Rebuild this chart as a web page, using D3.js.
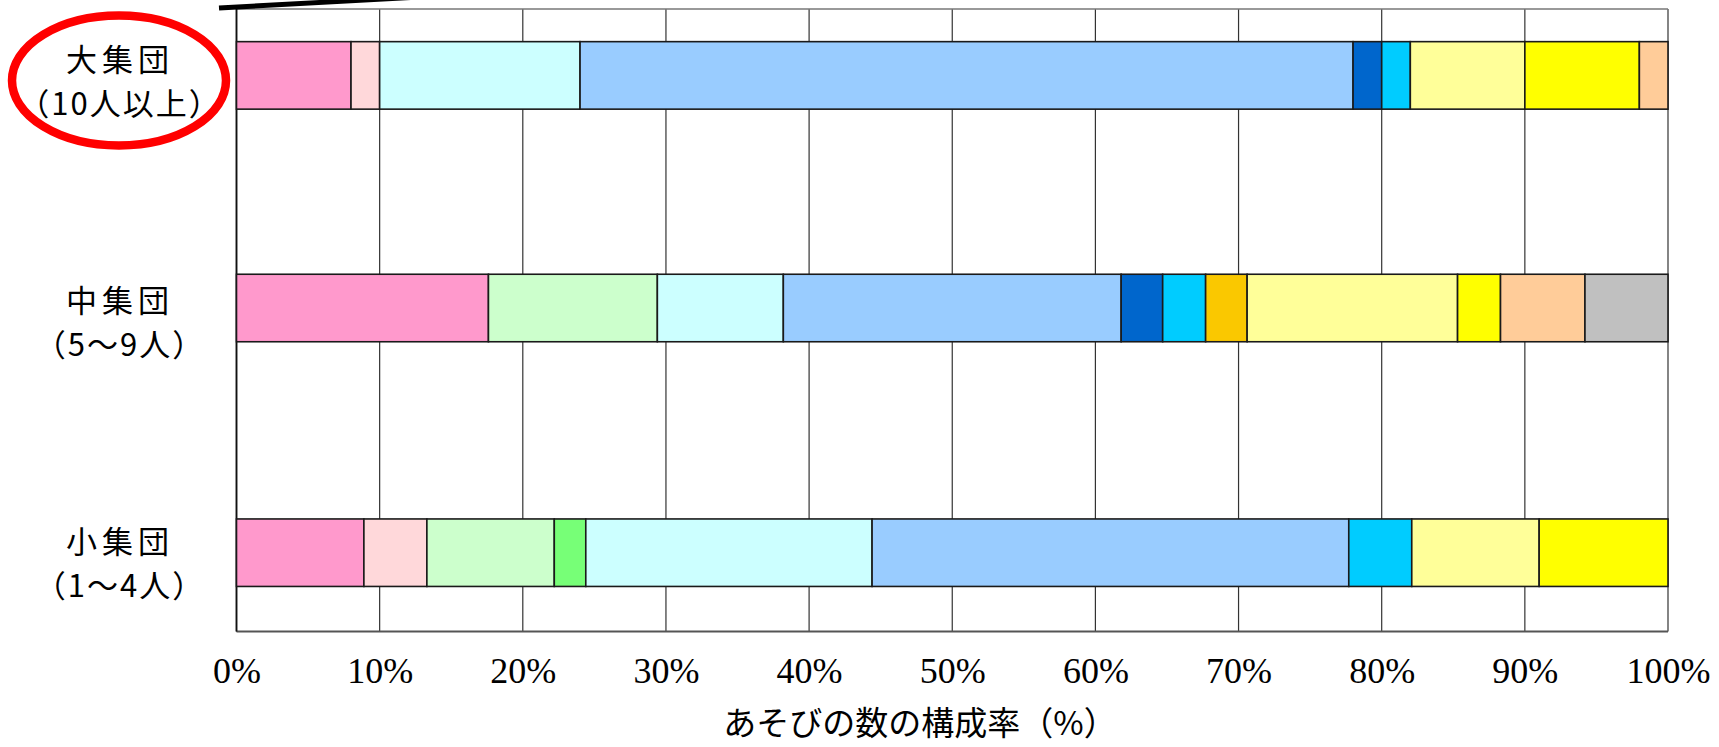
<!DOCTYPE html>
<html>
<head>
<meta charset="utf-8">
<script src="https://cdn.jsdelivr.net/npm/d3@7/dist/d3.min.js"></script>
<style>
  html, body { margin: 0; padding: 0; background: #ffffff; }
  svg { display: block; }
</style>
</head>
<body>
<svg id="chart" width="1719" height="747"></svg>
<script>
// ---- data ----
const categories = ["大集団", "中集団", "小集団"];
const categoryNotes = ["（10人以上）", "（5～9人）", "（1～4人）"];
const seriesKeys = ["s1", "s2", "s3", "s4", "s5", "s6", "s7", "s8", "s9", "s10", "s11", "s12", "s13"];
const seriesColors = ["#FF99CC", "#FFD8DA", "#CCFFCC", "#77FF77", "#CCFFFF", "#99CCFF",
                      "#0066CC", "#00CCFF", "#FAC800", "#FFFF99", "#FFFF00", "#FFCC99", "#C0C0C0"];
const largeGroup  = [8.0, 2.0, 0, 0, 14.0, 54.0, 2.0, 2.0, 0, 8.0, 8.0, 2.0, 0];
const mediumGroup = [17.6, 0, 11.8, 0, 8.8, 23.6, 2.9, 3.0, 2.9, 14.7, 3.0, 5.9, 5.8];
const smallGroup  = [8.9, 4.4, 8.9, 2.2, 20.0, 33.3, 0, 4.4, 0, 8.9, 9.0, 0, 0];
const xTicks = [0, 10, 20, 30, 40, 50, 60, 70, 80, 90, 100];
const xTitle = "あそびの数の構成率（%）";

// ---- build table ----
const groups = [largeGroup, mediumGroup, smallGroup];
const rows = categories.map((c, i) => {
  const r = { category: c, index: i };
  seriesKeys.forEach((k, j) => { r[k] = groups[i][j]; });
  return r;
});
const stacked = d3.stack().keys(seriesKeys)(rows);

// ---- layout ----
const svg = d3.select("#chart");
const plotLeft = 236.5, plotRight = 1668, plotTop = 9, plotBottom = 631.5;
const x = d3.scaleLinear().domain([0, 100]).range([plotLeft, plotRight]);
const y = d3.scaleLinear().domain([0, 1, 2]).range([75.4, 308, 552.7]);
const labelY = d3.scalePoint().domain(categories).range([79, 561]);
const barH = 67.5;
const color = d3.scaleOrdinal().domain(seriesKeys).range(seriesColors);

// gridlines
svg.append("g").selectAll("line").data(xTicks).join("line")
  .attr("x1", d => x(d)).attr("x2", d => x(d))
  .attr("y1", plotTop).attr("y2", plotBottom)
  .attr("stroke", "#333").attr("stroke-width", 1.2);

// frame
svg.append("line").attr("x1", plotLeft).attr("x2", plotRight).attr("y1", plotTop).attr("y2", plotTop)
  .attr("stroke", "#777").attr("stroke-width", 1.5);
svg.append("line").attr("x1", plotLeft).attr("x2", plotRight).attr("y1", plotBottom).attr("y2", plotBottom)
  .attr("stroke", "#555").attr("stroke-width", 2);
svg.append("line").attr("x1", plotLeft).attr("x2", plotLeft).attr("y1", plotTop).attr("y2", plotBottom)
  .attr("stroke", "#111").attr("stroke-width", 1.8);

// bars
const layer = svg.append("g").selectAll("g").data(stacked).join("g")
  .attr("fill", d => color(d.key));
layer.selectAll("rect").data(d => d.filter(s => s[1] - s[0] > 0)).join("rect")
  .attr("x", d => x(d[0]))
  .attr("width", d => x(d[1]) - x(d[0]))
  .attr("y", d => y(d.data.index) - barH / 2)
  .attr("height", barH)
  .attr("stroke", "#1a1a1a").attr("stroke-width", 1.6);

// x axis
const xAxis = d3.axisBottom(x).tickValues(xTicks).tickSize(0).tickPadding(26).tickFormat(d => d + "%");
const gx = svg.append("g").attr("transform", `translate(0,${plotBottom})`).call(xAxis);
gx.select(".domain").remove();
gx.selectAll("text")
  .attr("font-family", "'Liberation Serif', 'Times New Roman', serif")
  .attr("font-size", 36).attr("fill", "#000");

// category labels
const labelG = svg.append("g")
  .attr("font-family", "'Noto Sans CJK JP', 'Noto Sans', sans-serif")
  .attr("font-size", 31).attr("fill", "#000").attr("text-anchor", "middle");
categories.forEach((c, i) => {
  labelG.append("text").attr("x", 120).attr("y", labelY(c) - 22)
    .attr("dominant-baseline", "central").attr("letter-spacing", 5).text(c);
  labelG.append("text").attr("x", 120).attr("y", labelY(c) + 22)
    .attr("dominant-baseline", "central").attr("letter-spacing", 2).text(categoryNotes[i]);
});

// x title
svg.append("text").attr("x", 920).attr("y", 721)
  .attr("text-anchor", "middle").attr("dominant-baseline", "central")
  .attr("font-family", "'Noto Sans CJK JP', 'Noto Sans', sans-serif")
  .attr("font-size", 33).attr("fill", "#000").text(xTitle);

// annotations: red ellipse around the large-group label and callout line
svg.append("ellipse").attr("cx", 119).attr("cy", 80.5).attr("rx", 107).attr("ry", 65)
  .attr("fill", "none").attr("stroke", "#FF0000").attr("stroke-width", 8.5);
svg.append("line").attr("x1", 219).attr("y1", 8).attr("x2", 420).attr("y2", -3)
  .attr("stroke", "#000").attr("stroke-width", 5);
</script>
</body>
</html>
